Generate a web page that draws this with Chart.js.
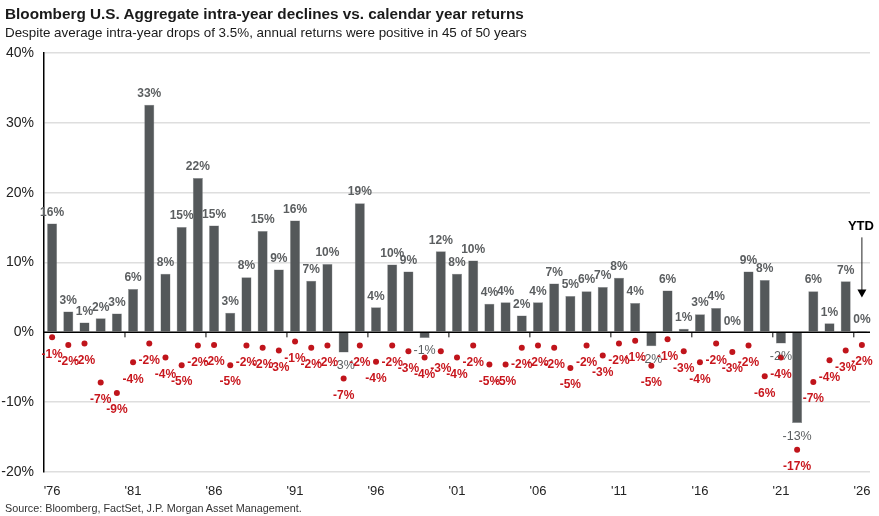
<!DOCTYPE html>
<html>
<head>
<meta charset="utf-8">
<script src="https://cdn.jsdelivr.net/npm/chart.js@4.4.1/dist/chart.umd.min.js"></script>
<style>
  html, body { margin: 0; padding: 0; background: #fff; }
  body { width: 879px; height: 516px; position: relative; overflow: hidden; font-family: 'Liberation Sans', Arial, sans-serif; }
  #title { position: absolute; left: 5px; top: 5px; font-size: 15.3px; font-weight: bold; color: #1a1a1a; }
  #subtitle { position: absolute; left: 5px; top: 25px; font-size: 13.4px; color: #1a1a1a; }
  #source { position: absolute; left: 5px; top: 502px; font-size: 10.8px; color: #333; }
  #wrap { position: absolute; left: 0; top: 0; width: 879px; height: 516px; }
</style>
</head>
<body>
<div id="wrap"><canvas id="chart"></canvas></div>
<div id="title">Bloomberg U.S. Aggregate intra-year declines vs. calendar year returns</div>
<div id="subtitle">Despite average intra-year drops of 3.5%, annual returns were positive in 45 of 50 years</div>
<div id="source">Source: Bloomberg, FactSet, J.P. Morgan Asset Management.</div>
<script>
// Années (catégories)
const years = [
  "'76", "'77", "'78", "'79", "'80", "'81", "'82", "'83", "'84", "'85",
  "'86", "'87", "'88", "'89", "'90", "'91", "'92", "'93", "'94", "'95",
  "'96", "'97", "'98", "'99", "'00", "'01", "'02", "'03", "'04", "'05",
  "'06", "'07", "'08", "'09", "'10", "'11", "'12", "'13", "'14", "'15",
  "'16", "'17", "'18", "'19", "'20", "'21", "'22", "'23", "'24", "'25",
  "'26"
];

// Calendar year returns (%)
const annualReturns = [
  15.6, 3.0, 1.4, 2.0, 2.7, 6.2, 32.6, 8.4, 15.1, 22.1,
  15.3, 2.8, 7.9, 14.5, 9.0, 16.0, 7.4, 9.8, -2.9, 18.5,
  3.6, 9.7, 8.7, -0.8, 11.6, 8.4, 10.3, 4.1, 4.3, 2.4,
  4.3, 7.0, 5.2, 5.9, 6.5, 7.8, 4.2, -2.0, 6.0, 0.5,
  2.6, 3.5, 0.0, 8.7, 7.5, -1.6, -13.0, 5.9, 1.3, 7.3,
  0.2
];

// Intra-year declines (%)
const intraYearDeclines = [
  -0.7, -1.8, -1.6, -7.2, -8.7, -4.3, -1.6, -3.6, -4.7, -1.9,
  -1.8, -4.7, -1.9, -2.2, -2.6, -1.3, -2.2, -1.9, -6.6, -1.9,
  -4.2, -1.9, -2.7, -3.6, -2.7, -3.6, -1.9, -4.6, -4.6, -2.2,
  -1.9, -2.2, -5.1, -1.9, -3.3, -1.6, -1.2, -4.8, -1.0, -2.7,
  -4.3, -1.6, -2.8, -1.9, -6.3, -3.6, -16.8, -7.1, -4.0, -2.6,
  -1.8
];

const yTicks = [-20, -10, 0, 10, 20, 30, 40];

const barColor = '#54585a';
const dotColor = '#c0141b';
const fmt = v => Math.round(v) + '%';

// Étiquettes des barres et des points
const labelPlugin = {
  id: 'valueLabels',
  afterDatasetsDraw(chart) {
    const ctx = chart.ctx;
    ctx.save();
    ctx.textAlign = 'center';
    ctx.textBaseline = 'middle';
    const bars = chart.getDatasetMeta(0).data;
    bars.forEach((el, i) => {
      const v = annualReturns[i];
      if (v >= 0) {
        ctx.font = "bold 12px 'Liberation Sans', Arial, sans-serif";
        ctx.fillStyle = '#5b5e60';
        ctx.fillText(fmt(v), el.x, el.y - 11);
      } else {
        ctx.font = "12.5px 'Liberation Sans', Arial, sans-serif";
        ctx.fillStyle = '#5b5e60';
        ctx.fillText(fmt(v), el.x, el.y + 13);
      }
    });
    const dots = chart.getDatasetMeta(1).data;
    ctx.font = "bold 12px 'Liberation Sans', Arial, sans-serif";
    ctx.fillStyle = '#c8161d';
    dots.forEach((el, i) => {
      ctx.fillText(fmt(intraYearDeclines[i]), el.x, el.y + 17);
    });
    ctx.restore();
  }
};

// Ligne zéro + repères + flèche YTD
const decoPlugin = {
  id: 'deco',
  afterDraw(chart) {
    const ctx = chart.ctx;
    const x = chart.scales.x, y = chart.scales.y;
    const y0 = y.getPixelForValue(0);
    ctx.save();
    ctx.strokeStyle = '#000';
    ctx.lineWidth = 1.5;
    ctx.beginPath();
    ctx.moveTo(chart.chartArea.left, y0);
    ctx.lineTo(chart.chartArea.right, y0);
    ctx.stroke();
    ctx.lineWidth = 1;
    for (let i = 5; i < years.length; i += 5) {
      const px = (x.getPixelForValue(i - 1) + x.getPixelForValue(i)) / 2;
      ctx.beginPath();
      ctx.moveTo(px, y0);
      ctx.lineTo(px, y0 + 5);
      ctx.stroke();
    }
    // YTD
    const last = years.length - 1;
    const ax = x.getPixelForValue(last);
    ctx.font = "bold 13px 'Liberation Sans', Arial, sans-serif";
    ctx.fillStyle = '#000';
    ctx.textAlign = 'center';
    ctx.textBaseline = 'middle';
    ctx.fillText('YTD', ax - 1, y.getPixelForValue(15.2));
    const top = y.getPixelForValue(13.6), tip = y.getPixelForValue(5.0);
    ctx.strokeStyle = '#222';
    ctx.lineWidth = 1;
    ctx.beginPath();
    ctx.moveTo(ax, top);
    ctx.lineTo(ax, tip - 6);
    ctx.stroke();
    ctx.fillStyle = '#000';
    ctx.beginPath();
    ctx.moveTo(ax - 4.5, tip - 8);
    ctx.lineTo(ax + 4.5, tip - 8);
    ctx.lineTo(ax, tip);
    ctx.closePath();
    ctx.fill();
    ctx.restore();
  }
};

new Chart(document.getElementById('chart'), {
  type: 'bar',
  data: {
    labels: years,
    datasets: [
      {
        label: 'Calendar year return',
        data: annualReturns,
        backgroundColor: barColor,
        borderColor: '#8a8d8f',
        borderWidth: 0.5,
        barPercentage: 0.62,
        categoryPercentage: 1,
        order: 2
      },
      {
        type: 'line',
        label: 'Intra-year decline',
        data: intraYearDeclines,
        showLine: false,
        pointRadius: 3,
        pointBackgroundColor: dotColor,
        pointBorderColor: dotColor,
        pointBorderWidth: 0,
        order: 1
      }
    ]
  },
  options: {
    responsive: true,
    maintainAspectRatio: false,
    animation: false,
    layout: { padding: { top: 53, right: 9, left: 0, bottom: 0 } },
    plugins: {
      legend: { display: false },
      tooltip: { enabled: false }
    },
    scales: {
      x: {
        grid: { display: false },
        border: { display: false },
        afterFit: s => { s.height = 44; },
        ticks: {
          autoSkip: false,
          maxRotation: 0,
          padding: 4,
          color: '#222',
          font: { size: 13, family: "'Liberation Sans', Arial, sans-serif" },
          callback: function(val, idx) { return idx % 5 === 0 ? years[idx] : ''; }
        }
      },
      y: {
        min: -20,
        max: 40,
        afterFit: s => { s.width = 44; },
        afterBuildTicks: s => { s.ticks = yTicks.map(v => ({ value: v })); },
        border: { display: true, color: '#000', width: 1.5 },
        grid: {
          color: ctx => ctx.tick && ctx.tick.value === 0 ? 'rgba(0,0,0,0)' : '#dedede',
          lineWidth: 1.5,
          drawTicks: false
        },
        ticks: {
          padding: 10,
          color: '#222',
          font: { size: 14, family: "'Liberation Sans', Arial, sans-serif" },
          callback: v => v + '%'
        }
      }
    }
  },
  plugins: [labelPlugin, decoPlugin]
});
</script>
</body>
</html>
